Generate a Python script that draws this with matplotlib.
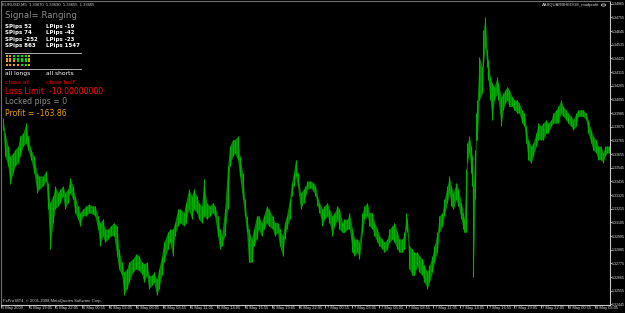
import matplotlib
matplotlib.use('Agg')
import matplotlib.pyplot as plt
import matplotlib.transforms as mtrans

# ---------------- data ----------------
bars = [2,4,7,9,12,14,17,19,22,25, 27,30,33,36,38,42,45,47,49,52,
        54,57,59,62,64,67,69,72,74,77, 79,82,85,88,92,94,97,99,102,104,
        107,110,113,116,118,121,123,126,128,132, 135,138,141,143,146,148,151,153,156,158,
        161,163,167,169,172,174,177,179,183,185, 188,191,193,196,198,201,203,206,209,212,
        214,217,219,221,224,227,229,232,234,237, 239,242,244,246,248,251,253,256,258,261,
        263,266,268,272,274,277,279,282,284,286, 289,291,293,295,297,300,303,
        305,307,310,313,315,317,319,322,324,327, 329,332,334,337,339,342,344,347,349,352,
        354,357,359,362,364,367,369,372,374,377, 379,382,384,387,389,392,394,397,399,402,
        404,406,407,409,412,414,417,419,422,424, 427,429,432,434,437,439,442,444,447,449,
        451,453,456,458,461,463,464,466,467,469, 471,472,473,475,476,477,479,482,483,485,
        487,488,490,492,494,497,498,501,503,505, 507,509,512,514,517,519,522,524,526,528,
        531,533,536,538,541,543,546,548,551,553, 556,558,561,563,566,568,571,573,576,578,
        581,583,586,588,591,593,596,598,601,603, 605,607,609]

highs = [1.33944,1.33824,1.33718,1.33638,1.33664,1.33691,1.33718,1.33798,1.33824,1.33904,
         1.33798,1.33691,1.33638,1.33504,1.33478,1.33478,1.33518,1.33424,1.33264,1.33318,
         1.33398,1.33344,1.33371,1.33398,1.33344,1.33371,1.33464,1.33398,1.33318,1.33238,
         1.33184,1.33211,1.33238,1.33251,1.33238,1.33238,1.33158,1.33104,1.33131,1.33051,
         1.33051,1.33078,1.33104,1.33078,1.32891,1.32784,1.32704,1.32731,1.32784,1.32811,
         1.32851,1.32838,1.32784,1.32771,1.32784,1.32678,1.32678,1.32704,1.32651,1.32731,
         1.32838,1.32944,1.33024,1.33051,1.33051,1.33104,1.33211,1.33211,1.33184,1.33264,
         1.33371,1.33318,1.33371,1.33318,1.33264,1.33238,1.33451,1.33264,1.33238,1.33264,
         1.33238,1.33158,1.33051,1.32998,1.33211,1.33558,1.33718,1.33771,1.33771,1.33798,
         1.33638,1.33504,1.33291,1.33158,1.33051,1.32971,1.33051,1.33158,1.33158,1.33104,
         1.33158,1.33238,1.33211,1.33158,1.33104,1.33104,1.33051,1.32998,1.33104,1.33158,
         1.33291,1.33424,1.33504,1.33611,1.33504,1.33344,1.33371,
         1.33398,1.33438,1.33438,1.33424,1.33398,1.33318,1.33264,1.33211,1.33238,1.33264,
         1.33211,1.33158,1.33184,1.33238,1.33211,1.33104,1.33131,1.33131,1.33184,1.33051,
         1.32971,1.32971,1.32944,1.33184,1.33238,1.33264,1.33184,1.33184,1.33104,1.33051,
         1.32998,1.32971,1.32944,1.32971,1.33051,1.33078,1.33104,1.33024,1.32971,1.32971,
         1.33024,1.33184,1.33131,1.32918,1.32891,1.32864,1.32864,1.32838,1.32811,1.32758,
         1.32704,1.32758,1.32838,1.32918,1.33024,1.33158,1.33184,1.33291,1.33398,1.33478,
         1.33398,1.33344,1.33424,1.33371,1.33264,1.33184,1.33131,1.33531,1.33744,1.33798,
         1.33718,1.33638,1.33398,1.33691,1.33984,1.34091,1.34438,1.34358,1.34651,1.34758,
         1.34491,1.34411,1.34278,1.34224,1.34198,1.34278,1.34224,1.34118,1.34144,1.34171,
         1.34198,1.34171,1.34118,1.34091,1.34091,1.34064,1.34011,1.33984,1.33878,1.33771,
         1.33718,1.33744,1.33824,1.33904,1.33878,1.33904,1.33931,1.33904,1.33931,1.33984,
         1.34011,1.34038,1.34091,1.34038,1.34011,1.33984,1.33958,1.33931,1.33984,1.34011,
         1.34011,1.34011,1.33984,1.33931,1.33851,1.33798,1.33771,1.33718,1.33718,1.33664,
         1.33718,1.33718,1.33718]

lows = [1.33851,1.33638,1.33558,1.33411,1.33504,1.33558,1.33584,1.33638,1.33718,1.33744,
        1.33691,1.33611,1.33504,1.33344,1.33371,1.33398,1.33438,1.33211,1.32891,1.33104,
        1.33211,1.33238,1.33264,1.33318,1.33211,1.33264,1.33344,1.33291,1.33184,1.33131,
        1.33078,1.33158,1.33158,1.33184,1.33171,1.33158,1.33051,1.32918,1.32998,1.32944,
        1.32971,1.32998,1.32998,1.32838,1.32731,1.32678,1.32518,1.32571,1.32624,1.32704,
        1.32731,1.32718,1.32691,1.32624,1.32678,1.32571,1.32598,1.32624,1.32518,1.32571,
        1.32678,1.32784,1.32891,1.32944,1.32838,1.32998,1.33078,1.33104,1.33078,1.33104,
        1.33211,1.33131,1.33211,1.33184,1.33131,1.33104,1.33158,1.33131,1.33158,1.33184,
        1.33158,1.32998,1.32891,1.32918,1.32998,1.33211,1.33558,1.33638,1.33664,1.33611,
        1.33478,1.33291,1.33158,1.33024,1.32784,1.32784,1.32918,1.32971,1.33051,1.32998,
        1.33051,1.33104,1.33078,1.33051,1.32998,1.33024,1.32918,1.32838,1.32971,1.33051,
        1.33131,1.33318,1.33398,1.33478,1.33398,1.33211,1.33264,
        1.33318,1.33371,1.33384,1.33358,1.33318,1.33238,1.33184,1.33078,1.33131,1.33158,
        1.33104,1.32998,1.33078,1.33131,1.33051,1.33024,1.33024,1.33051,1.33051,1.32864,
        1.32838,1.32864,1.32811,1.33024,1.33131,1.33158,1.33078,1.33051,1.32998,1.32944,
        1.32918,1.32891,1.32864,1.32891,1.32944,1.32971,1.32944,1.32891,1.32864,1.32864,
        1.32891,1.33051,1.33024,1.32731,1.32678,1.32678,1.32758,1.32704,1.32678,1.32624,
        1.32571,1.32624,1.32704,1.32784,1.32864,1.33024,1.33078,1.33158,1.33264,1.33344,
        1.33238,1.33211,1.33291,1.33238,1.33131,1.33051,1.33024,1.33024,1.33584,1.33664,
        1.33504,1.33398,1.32664,1.33291,1.33771,1.33771,1.34091,1.34144,1.34358,1.34518,
        1.34358,1.34251,1.34091,1.33931,1.34091,1.34144,1.34091,1.33878,1.34011,1.34064,
        1.34091,1.34038,1.34038,1.34011,1.33984,1.33984,1.33904,1.33878,1.33744,1.33611,
        1.33584,1.33638,1.33718,1.33771,1.33771,1.33771,1.33824,1.33824,1.33878,1.33904,
        1.33904,1.33904,1.33984,1.33958,1.33931,1.33904,1.33878,1.33851,1.33878,1.33958,
        1.33958,1.33958,1.33931,1.33824,1.33744,1.33691,1.33664,1.33611,1.33611,1.33584,
        1.33638,1.33664,1.33664]

price_ticks = [1.34865, 1.34755, 1.34645, 1.34535, 1.34425, 1.34315, 1.34205, 1.34095,
               1.33985, 1.33875, 1.33765, 1.33655, 1.33545, 1.33435, 1.33325, 1.33215,
               1.33105, 1.32995, 1.32885, 1.32775, 1.32665, 1.32555, 1.32445]
price_labels = ['%.5f' % p for p in price_ticks]

time_ticks = [0, 28, 54, 81, 108, 135, 162, 189, 216, 244, 271, 298,
              325, 352, 379, 406, 433, 460, 487, 514, 541, 568, 595]
time_labels = ['5 May 2009', '5 May 19:05', '5 May 22:05', '6 May 00:55', '6 May 03:05',
               '6 May 06:05', '6 May 08:55', '6 May 11:05', '6 May 14:05', '6 May 16:55',
               '6 May 19:05', '6 May 22:05', '7 May 00:55', '7 May 03:05', '7 May 06:05',
               '7 May 08:55', '7 May 11:05', '7 May 14:05', '7 May 16:55', '7 May 19:05',
               '7 May 22:05', '8 May 00:55', '8 May 03:05']

pips_rows = [('SPips 52', 'LPips -19'), ('SPips 74', 'LPips -42'),
             ('SPips -252', 'LPips -23'), ('SPips 863', 'LPips 1547')]
dot_rows = ['OOGGGGO', 'OOGGGGO', 'OOOGGGO', 'OOOOGGO']

# ---------------- figure ----------------
W, H = 625, 313
fig = plt.figure(figsize=(W / 100, H / 100), dpi=100, facecolor='black')
ax = fig.add_axes([1 / W, 8 / H, 608.5 / W, 304.5 / H])
ax.set_facecolor('black')

ax.fill_between(bars, lows, highs, color='#008800', lw=0)
ax.vlines(bars, lows, highs, color='#00b000', lw=0.8)

ax.set_xlim(0, 609.5)
ax.set_ylim(1.32440, 1.34891)

for s in ['top', 'left']:
    ax.spines[s].set_color('#707070')
for s in ['right', 'bottom']:
    ax.spines[s].set_color('#c8c8c8')
for s in ax.spines.values():
    s.set_linewidth(0.8)

ax.yaxis.tick_right()
ax.set_yticks(price_ticks)
ax.set_yticklabels(price_labels, fontsize=2.6, color='#e0e0e0', family='Liberation Sans')
ax.tick_params(axis='y', direction='out', length=1.5, width=0.6, color='#c8c8c8', pad=0.3)

ax.set_xticks(time_ticks)
ax.set_xticklabels(time_labels, fontsize=2.85, color='#e0e0e0', family='Liberation Sans')
ax.tick_params(axis='x', direction='out', length=2.0, width=0.6, color='#c8c8c8', pad=-1.2)
off = mtrans.ScaledTranslation(1.3 / 100, 0, fig.dpi_scale_trans)
for lab in ax.get_xticklabels():
    lab.set_horizontalalignment('left')
    lab.set_transform(lab.get_transform() + off)


def P(x, y):
    return x / W, 1 - y / H


# header texts
fig.text(*P(2, 4.5), 'EURUSD,M5  1.33670  1.33690  1.33655  1.33665', fontsize=3.0,
         color='#d0d0d0', va='center', family='Liberation Sans')
fig.text(*P(599, 5), 'AASQUARBHEDGE_modprofit', fontsize=3.0, color='#d0d0d0',
         va='center', ha='right', family='Liberation Sans')
fig.patches.append(plt.Circle(P(603.5, 5), 2.2 / W, transform=fig.transFigure,
                              fill=False, ec='#c0c0c0', lw=0.6))
fig.text(*P(3, 301), 'FxPro MT4, \u00a9 2001-2008 MetaQuotes Software Corp.', fontsize=3.0,
         color='#d0d0d0', va='center', family='Liberation Sans')

# info panel
fig.text(*P(5, 15), 'Signal= Ranging', fontsize=6.2, color='#8c8c8c', va='center',
         family='DejaVu Sans')
for i, (a, b) in enumerate(pips_rows):
    y = 26.5 + i * 6.3
    fig.text(*P(5, y), a, fontsize=4.0, color='white', va='center', weight='bold',
             family='DejaVu Sans')
    fig.text(*P(45.5, y), b, fontsize=4.0, color='white', va='center', weight='bold',
             family='DejaVu Sans')
fig.lines.append(plt.Line2D([5 / W, 81 / W], [1 - 52.5 / H] * 2, transform=fig.transFigure,
                            color='#b0b0b0', lw=0.7))
for r, row in enumerate(dot_rows):
    for c, ch in enumerate(row):
        col = '#f0a000' if ch == 'O' else '#00e000'
        x, y = P(6.5 + c * 3.8, 55.5 + r * 3.0)
        fig.lines.append(plt.Line2D([x], [y], transform=fig.transFigure, marker='s',
                                    ms=1.6, mew=0, color=col, ls='none'))
fig.lines.append(plt.Line2D([5 / W, 81 / W], [1 - 68.5 / H] * 2, transform=fig.transFigure,
                            color='#b0b0b0', lw=0.7))
fig.text(*P(5, 73.5), 'all longs', fontsize=4.3, color='white', va='center',
         family='DejaVu Sans')
fig.text(*P(46, 73.5), 'all shorts', fontsize=4.3, color='white', va='center',
         family='DejaVu Sans')
fig.text(*P(5, 82), 'close all', fontsize=4.3, color='#ff0000', va='center',
         family='DejaVu Sans')
fig.text(*P(46, 82), 'close half', fontsize=4.3, color='#ff0000', va='center',
         family='DejaVu Sans')
fig.text(*P(5, 91.5), 'Loss Limit: -10.00000000', fontsize=5.6, color='#ff1010',
         va='center', family='DejaVu Sans')
fig.text(*P(5, 101.5), 'Locked pips = 0', fontsize=5.6, color='#8c8c8c', va='center',
         family='DejaVu Sans')
fig.text(*P(5, 113), 'Profit = -163.86', fontsize=5.6, color='#e8a000', va='center',
         family='DejaVu Sans')

fig.savefig('out.png', dpi=100, facecolor='black')
